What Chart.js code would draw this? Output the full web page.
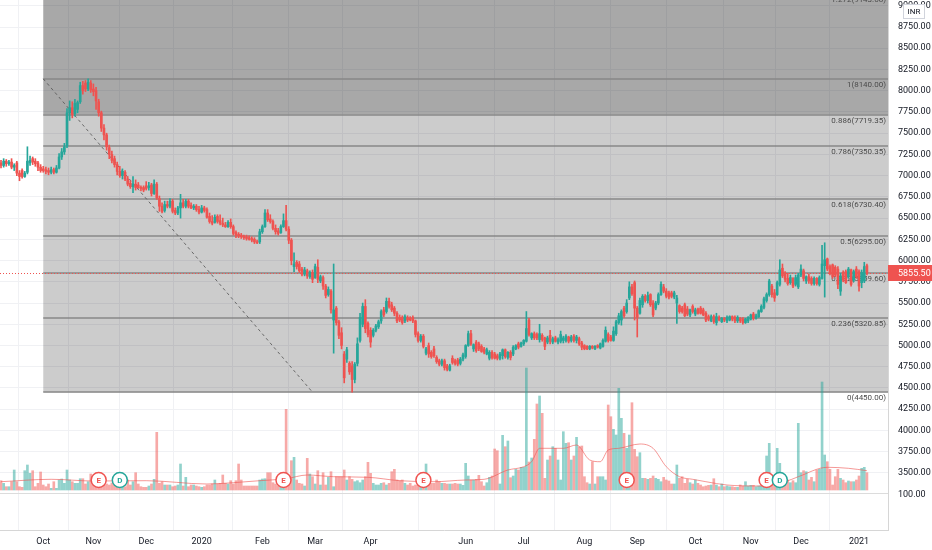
<!DOCTYPE html>
<html>
<head>
<meta charset="utf-8">
<script src="https://cdn.jsdelivr.net/npm/chart.js@4.4.1/dist/chart.umd.min.js"></script>
<style>
html, body { margin: 0; padding: 0; background: #fff; }
#wrap { width: 932px; height: 550px; }
</style>
</head>
<body>
<div id="wrap"><canvas id="chart" width="932" height="550"></canvas></div>
<script>
// daily candles, Sep 2019 - Jan 2021 (index = trading day)
const opens = [
  7150,7120,7170,7140,7160,7100,7150,7030,7060,6990, 7040,7150,7200,7170,7150,7100,7080,7070,7060,7040,
  7070,7040,7090,7220,7280,7350,7740,7800,7730,7780, 7870,8060,8090,8020,8090,8020,8000,7870,7740,7560,
  7480,7330,7250,7200,7130,7050,7000,7040,6960,6910, 6870,6900,6890,6860,6860,6880,6860,6890,6790,6900,
  6730,6640,6590,6660,6640,6700,6590,6560,6620,6680, 6640,6700,6650,6620,6640,6600,6570,6620,6600,6520,
  6460,6450,6520,6470,6440,6420,6400,6450,6400,6330, 6310,6300,6290,6280,6270,6260,6250,6220,6220,6340,
  6400,6560,6490,6460,6380,6350,6330,6400,6470,6370, 6240,5930,5980,5960,5900,5840,5880,5810,5860,5800,
  5920,5760,5800,5700,5600,5640,5300,5440,5280,5150, 4900,4840,4790,4760,4600,4790,5060,5250,5460,5260,
  5180,5120,5180,5220,5290,5420,5400,5520,5480,5440, 5380,5330,5330,5290,5330,5320,5330,5290,5140,5060,
  5110,4910,5000,4920,4960,4860,4820,4780,4820,4760, 4710,4850,4820,4830,4790,4840,4870,5000,5140,4960,
  5040,5020,4990,4960,4900,4850,4920,4900,4880,4850, 4880,4950,4860,4920,4900,4960,5020,4990,5020,5050,
  5300,5090,5140,5130,5070,5120,5090,5040,5120,5040, 5090,5040,5050,5060,5060,5100,5060,5110,5060,5080,
  5030,5000,4990,4960,4990,4960,5000,4970,4990,5050, 5130,5100,5060,5140,5270,5300,5440,5400,5560,5690,
  5740,5440,5380,5480,5580,5530,5600,5500,5440,5500, 5600,5690,5640,5620,5620,5570,5500,5470,5440,5480,
  5430,5360,5460,5370,5430,5440,5420,5380,5340,5290, 5340,5270,5330,5280,5320,5290,5300,5340,5330,5290,
  5320,5310,5270,5290,5310,5370,5320,5340,5400,5450, 5530,5600,5700,5620,5600,5720,5910,5840,5790,5740,
  5790,5720,5690,5830,5880,5760,5810,5790,5730,5790, 5720,5790,5940,6020,5930,5950,5920,5900,5640,5860,
  5870,5810,5890,5770,5900,5870,5740,5760,5940
];
const highs = [
  7180,7200,7190,7180,7200,7140,7170,7060,7080,7050, 7340,7230,7220,7200,7170,7130,7110,7100,7090,7100,
  7090,7120,7260,7320,7380,7790,7880,7870,7900,7880, 8100,8110,8120,8140,8120,8080,8040,7900,7760,7600,
  7500,7360,7290,7230,7160,7110,7080,7060,6990,6940, 6990,6950,6920,6880,6880,6930,6920,6910,6950,6920,
  6760,6680,6700,6700,6730,6720,6620,6640,6780,6720, 6720,6720,6680,6660,6660,6640,6650,6640,6620,6560,
  6530,6540,6540,6540,6500,6450,6470,6490,6420,6350, 6330,6320,6300,6300,6290,6280,6270,6240,6370,6420,
  6600,6600,6540,6480,6420,6380,6420,6550,6650,6400, 6260,6090,6000,5990,5920,5920,5900,5880,5890,5960,
  6010,5830,5820,5720,5690,5660,5960,5460,5300,5210, 4930,4980,4810,4810,4800,5090,5380,5500,5540,5280,
  5210,5200,5250,5300,5420,5450,5560,5560,5510,5460, 5400,5360,5350,5360,5350,5340,5350,5300,5160,5130,
  5130,4980,5030,4940,4990,4880,4840,4840,4840,4780, 4780,4880,4840,4850,4860,4910,5010,5170,5180,5020,
  5060,5040,5010,4980,4970,4940,4940,4920,4900,4920, 4960,4960,4930,4940,5000,5010,5040,5040,5070,5400,
  5320,5150,5160,5150,5250,5140,5100,5110,5180,5100, 5110,5090,5170,5110,5130,5110,5120,5130,5120,5100,
  5050,5010,5000,5000,5000,5000,5010,5030,5080,5220, 5150,5120,5220,5300,5380,5420,5460,5540,5750,5720,
  5760,5460,5560,5600,5600,5630,5610,5530,5520,5620, 5750,5720,5670,5640,5640,5640,5590,5480,5460,5500,
  5460,5430,5480,5440,5440,5460,5440,5400,5360,5360, 5360,5380,5350,5330,5330,5350,5350,5350,5350,5350,
  5330,5330,5320,5340,5370,5390,5370,5420,5480,5570, 5620,5780,5720,5660,5760,6010,5960,5870,5850,5830,
  5800,5830,5850,5950,5900,5820,5840,5810,5810,5800, 5820,6180,6210,6030,5950,5960,5940,5930,5850,5880,
  5890,5920,5900,5890,5930,5890,5890,5980,5960
];
const lows = [
  7090,7100,7110,7120,7080,7060,7000,6940,6970,6980, 7020,7120,7130,7110,7060,7040,7040,7020,7010,7020,
  7020,7030,7080,7190,7250,7330,7650,7680,7700,7740, 7850,7960,7990,8000,7980,7940,7780,7700,7520,7420,
  7300,7200,7150,7100,7010,6980,6960,6940,6880,6850, 6800,6830,6850,6820,6810,6830,6830,6760,6780,6720,
  6580,6560,6570,6620,6620,6560,6540,6540,6500,6620, 6620,6620,6610,6600,6580,6550,6560,6570,6500,6440,
  6420,6440,6440,6420,6400,6390,6390,6380,6300,6270, 6270,6260,6250,6240,6240,6220,6200,6200,6200,6320,
  6390,6460,6440,6360,6310,6300,6320,6390,6350,6200, 5950,5870,5900,5860,5820,5820,5790,5790,5740,5790,
  5740,5740,5660,5560,5580,5380,4910,5240,5080,4960, 4560,4800,4660,4450,4560,4760,5040,5220,5150,5100,
  4980,5100,5160,5200,5260,5340,5380,5440,5400,5350, 5270,5280,5250,5270,5280,5290,5270,5100,5040,5040,
  4970,4890,4860,4850,4860,4790,4760,4760,4710,4700, 4700,4780,4770,4760,4770,4820,4850,4990,5000,4930,
  4920,4940,4920,4900,4890,4830,4840,4840,4830,4830, 4840,4850,4840,4830,4880,4950,4960,4980,5000,5040,
  5110,5070,5070,5070,5040,5050,4950,5020,5020,5020, 5040,5020,5030,5030,5040,5030,5040,5040,5030,5000,
  4950,4950,4950,4950,4960,4950,4970,4960,4980,5040, 5040,5050,5050,5120,5250,5240,5330,5380,5540,5590,
  5300,5100,5370,5450,5510,5500,5460,5340,5420,5480, 5590,5620,5560,5550,5560,5550,5260,5380,5380,5340,
  5350,5340,5380,5350,5370,5370,5350,5280,5290,5280, 5260,5240,5290,5270,5280,5270,5290,5290,5270,5270,
  5270,5250,5260,5270,5300,5300,5310,5330,5390,5430, 5510,5580,5570,5520,5590,5700,5800,5750,5710,5720,
  5680,5700,5670,5810,5760,5730,5730,5710,5710,5710, 5700,5780,5570,5880,5830,5790,5810,5670,5590,5750,
  5730,5790,5700,5750,5790,5640,5680,5740,5830
];
const closes = [
  7120,7170,7140,7160,7100,7120,7030,6990,6990,7030, 7170,7180,7160,7140,7100,7060,7060,7050,7040,7070,
  7040,7090,7220,7280,7340,7740,7800,7720,7850,7860, 8060,8000,8020,8100,8010,7990,7880,7740,7560,7480,
  7340,7250,7180,7130,7050,7000,7050,6960,6900,6870, 6900,6860,6860,6850,6830,6850,6880,6790,6900,6740,
  6640,6580,6660,6640,6700,6580,6560,6620,6680,6640, 6700,6640,6620,6640,6600,6570,6620,6590,6510,6460,
  6440,6510,6460,6440,6420,6400,6450,6400,6320,6300, 6290,6280,6270,6260,6250,6240,6220,6210,6340,6400,
  6560,6480,6460,6380,6340,6320,6400,6470,6370,6240, 6000,5960,5930,5880,5840,5890,5820,5860,5780,5930,
  5780,5810,5700,5590,5660,5420,5420,5270,5120,5000, 4620,4950,4690,4600,4780,5020,5330,5460,5200,5130,
  5040,5180,5230,5280,5400,5360,5520,5460,5420,5380, 5290,5300,5270,5340,5300,5300,5290,5130,5060,5110,
  4990,4960,4900,4870,4880,4810,4780,4820,4740,4720, 4760,4800,4790,4780,4840,4890,5000,5140,5020,5010,
  4940,4960,4930,4920,4950,4920,4860,4850,4850,4900, 4950,4870,4920,4860,4980,5000,4980,5030,5060,5200,
  5130,5140,5090,5090,5140,5070,4990,5090,5050,5080, 5050,5070,5130,5090,5110,5050,5100,5060,5100,5020,
  4980,4960,4960,4990,4970,4990,4980,5020,5060,5180, 5060,5060,5170,5280,5350,5400,5350,5500,5690,5610,
  5440,5330,5530,5580,5530,5590,5480,5360,5500,5600, 5720,5640,5580,5570,5580,5620,5560,5400,5400,5350,
  5370,5420,5400,5420,5380,5380,5360,5300,5310,5340, 5280,5340,5300,5320,5300,5330,5340,5310,5290,5330,
  5290,5270,5310,5330,5360,5320,5350,5410,5460,5550, 5600,5760,5600,5560,5740,5890,5820,5780,5730,5800,
  5700,5800,5830,5900,5790,5810,5760,5730,5790,5730, 5800,5960,6010,5900,5850,5810,5830,5720,5820,5770,
  5740,5900,5720,5870,5810,5700,5860,5930,5855.5
];
// volume, thousand shares
const volumes = [
  93,67,33,33,83,200,83,33,27,193, 250,167,193,33,67,180,50,33,60,17,
  83,17,100,110,67,200,100,83,67,67, 113,113,60,83,160,130,100,70,60,50,
  60,50,70,83,60,50,60,33,100,50, 83,173,60,33,27,27,40,60,107,577,
  67,83,50,50,50,33,40,50,260,40, 127,33,50,50,40,33,27,33,50,50,
  60,100,60,67,150,67,60,93,60,93, 260,100,40,40,40,40,40,40,100,110,
  113,173,173,73,60,40,100,100,807,100, 293,327,100,67,60,40,317,160,133,60,
  193,50,173,50,127,183,33,133,133,133, 200,100,133,107,83,93,73,100,133,277,
  167,67,50,50,67,73,50,67,183,207, 100,93,100,67,50,67,40,50,67,67,
  50,260,67,67,67,100,83,67,67,60, 60,60,67,60,60,47,267,140,100,100,
  107,147,83,40,73,127,140,410,393,60, 547,433,490,123,140,207,200,227,227,1220,
  280,320,507,860,940,767,117,300,340,433, 417,300,100,583,467,473,300,340,527,433,
  440,133,73,60,283,60,133,133,133,100, 850,733,607,550,1017,717,567,417,550,873,
  407,333,373,117,117,107,117,140,117,107, 83,127,100,90,60,60,250,117,133,67,
  107,73,60,100,67,50,33,40,47,50, 113,50,33,60,33,40,33,33,27,27,
  50,40,83,40,47,47,33,40,40,67, 340,467,117,83,417,267,83,100,100,73,
  93,73,667,173,193,183,100,127,83,200, 207,1080,350,283,207,50,133,207,117,100,
  73,90,83,83,100,140,217,227,173
];
// volume moving average
const maIdx = [0,19,35,55,78,88,98,108,116,126,139,151,164,176,183,192,198,201,204,213,218,223,227,230,234,242,247,252,257,262,267,275,287,297,302,313,321,328];
const maVal = [83,107,90,93,60,73,93,113,150,133,127,93,83,100,107,200,233,283,417,417,450,300,283,400,417,460,417,233,133,107,83,50,40,83,133,227,217,193];

const monthLabels = ['Oct','Nov','Dec','2020','Feb','Mar','Apr','Jun','Jul','Aug','Sep','Oct','Nov','Dec','2021'];
const monthIdx = [16,35,55,76,99,119,140,176,198,221,241,263,284,303,325];
const priceTicks = [3500,3750,4000,4250,4500,4750,5000,5250,5500,5750,6000,6250,6500,6750,7000,7250,7500,7750,8000,8250,8500,8750,9000];

// fibonacci retracement drawn from the Oct high to the Mar low
const fibRatios = [0, 0.236, 0.382, 0.5, 0.618, 0.786, 0.886, 1, 1.272];
const fibValues = [4450.00, 5320.85, 5859.60, 6295.00, 6730.40, 7350.35, 7719.35, 8140.00, 9143.68];
const fibStartIdx = 16;
const fibEndIdx = 118;

const eventIdx = [37, 45, 107, 160, 237, 290, 295];
const eventType = ['E', 'D', 'E', 'E', 'E', 'E', 'D'];

const UP = '#26a69a';
const DOWN = '#ef5350';
const PANE_SPLIT = 493;
const FONT = 'Roboto';

const idx = closes.map((c, i) => i);
const candleColors = idx.map(i => closes[i] >= opens[i] ? UP : DOWN);
const volColors = idx.map(i => closes[i] >= opens[i] ? 'rgba(38,166,154,0.5)' : 'rgba(239,83,80,0.5)');

const overlay = {
    id: 'overlay',
    beforeDatasetsDraw(chart) {
        const { ctx, chartArea: a, scales: { x, y } } = chart;
        const x0 = x.getPixelForValue(fibStartIdx);
        const yOf = v => y.getPixelForValue(v);
        ctx.save();
        ctx.beginPath();
        ctx.rect(a.left, a.top, a.width, a.height);
        ctx.clip();

        // pane separator
        ctx.strokeStyle = '#dcdcdc';
        ctx.lineWidth = 1;
        ctx.beginPath();
        ctx.moveTo(a.left, PANE_SPLIT + 0.5);
        ctx.lineTo(a.right, PANE_SPLIT + 0.5);
        ctx.stroke();

        // fib backgrounds
        const k886 = fibRatios.indexOf(0.886);
        const yMid = yOf(fibValues[k886]);
        const yLow = yOf(fibValues[0]);
        const yTop = yOf(fibValues[fibValues.length - 1]);
        ctx.fillStyle = 'rgba(0,0,0,0.2)';
        ctx.fillRect(x0, yMid, a.right - x0, yLow - yMid);
        ctx.fillStyle = 'rgba(0,0,0,0.34)';
        ctx.fillRect(x0, yTop, a.right - x0, yMid - yTop);

        // fib levels
        ctx.strokeStyle = '#878787';
        ctx.lineWidth = 1.5;
        fibValues.forEach(v => {
            const py = Math.round(yOf(v));
            ctx.beginPath();
            ctx.moveTo(x0, py);
            ctx.lineTo(a.right, py);
            ctx.stroke();
        });
        ctx.font = '8px ' + FONT;
        ctx.fillStyle = '#4a4a4a';
        ctx.textAlign = 'right';
        ctx.textBaseline = 'top';
        fibValues.forEach((v, k) => {
            ctx.fillText(`${fibRatios[k]}(${v.toFixed(2)})`, a.right - 2, yOf(v) + 2);
        });

        // last price line
        const py = Math.round(yOf(closes[closes.length - 1])) + 0.5;
        ctx.strokeStyle = DOWN;
        ctx.lineWidth = 1;
        ctx.setLineDash([1, 2]);
        ctx.beginPath();
        ctx.moveTo(a.left, py);
        ctx.lineTo(a.right, py);
        ctx.stroke();
        ctx.restore();
    },
    afterDatasetsDraw(chart) {
        const { ctx } = chart;
        const meta = chart.getDatasetMeta(chart.data.datasets.findIndex(d => d.label === 'events'));
        ctx.save();
        ctx.font = 'bold 8px ' + FONT;
        ctx.textAlign = 'center';
        ctx.textBaseline = 'middle';
        meta.data.forEach((pt, k) => {
            ctx.fillStyle = eventType[k] === 'E' ? DOWN : UP;
            ctx.fillText(eventType[k], pt.x, pt.y + 0.5);
        });
        ctx.restore();
    },
    afterDraw(chart) {
        const { ctx, chartArea: a, scales: { y } } = chart;
        ctx.save();
        // price tag
        const last = closes[closes.length - 1];
        const py = Math.round(y.getPixelForValue(last));
        ctx.fillStyle = DOWN;
        ctx.fillRect(a.right, py - 8, chart.width - a.right, 16);
        ctx.fillStyle = '#fff';
        ctx.font = '9px ' + FONT;
        ctx.textAlign = 'left';
        ctx.textBaseline = 'middle';
        ctx.fillText(last.toFixed(2), a.right + 10, py + 0.5);

        // lower pane scale label
        ctx.fillStyle = '#131722';
        ctx.fillText('100.00', a.right + 10, PANE_SPLIT + 2);

        // currency badge
        ctx.fillStyle = '#fff';
        ctx.strokeStyle = '#d1d4dc';
        ctx.lineWidth = 1;
        ctx.fillRect(903.5, 4.5, 21, 14);
        ctx.strokeRect(903.5, 4.5, 21, 14);
        ctx.fillStyle = '#131722';
        ctx.font = '8px ' + FONT;
        ctx.textAlign = 'center';
        ctx.fillText('INR', 914, 12);
        ctx.restore();
    }
};

const ctx = document.getElementById('chart').getContext('2d');
const chart = new Chart(ctx, {
    type: 'bar',
    data: {
        datasets: [
            {
                label: 'events',
                type: 'scatter',
                yAxisID: 'yv',
                data: eventIdx.map(i => ({ x: i, y: 100 })),
                pointRadius: 7.5,
                pointBackgroundColor: '#fff',
                pointBorderColor: eventType.map(t => t === 'E' ? DOWN : UP),
                pointBorderWidth: 1.5,
                order: 0
            },
            {
                label: 'bodies',
                data: idx.map(i => ({ x: i, y: [opens[i], closes[i]] })),
                backgroundColor: candleColors,
                grouped: false,
                barThickness: 2,
                maxBarThickness: 2,
                minBarLength: 1,
                borderWidth: 0,
                order: 1
            },
            {
                label: 'wicks',
                data: idx.map(i => ({ x: i, y: [lows[i], highs[i]] })),
                backgroundColor: candleColors,
                grouped: false,
                barThickness: 1,
                maxBarThickness: 1,
                borderWidth: 0,
                order: 2
            },
            {
                label: 'fibLine',
                type: 'line',
                data: [{ x: fibStartIdx, y: fibValues[7] }, { x: fibEndIdx, y: fibValues[0] }],
                borderColor: 'rgba(80,80,80,0.8)',
                borderWidth: 1,
                borderDash: [3, 3],
                pointRadius: 0,
                order: 3
            },
            {
                label: 'volMA',
                type: 'line',
                yAxisID: 'yv',
                data: maIdx.map((i, k) => ({ x: i, y: maVal[k] })),
                borderColor: 'rgba(239,83,80,0.6)',
                borderWidth: 1,
                pointRadius: 0,
                cubicInterpolationMode: 'monotone',
                order: 4
            },
            {
                label: 'volume',
                yAxisID: 'yv',
                data: idx.map(i => ({ x: i, y: volumes[i] })),
                backgroundColor: volColors,
                grouped: false,
                barThickness: 2,
                maxBarThickness: 2,
                borderWidth: 0,
                order: 5
            }
        ]
    },
    options: {
        responsive: false,
        animation: false,
        devicePixelRatio: 1,
        layout: { padding: 0, autoPadding: false },
        plugins: { legend: { display: false }, tooltip: { enabled: false } },
        scales: {
            x: {
                type: 'linear',
                min: -0.38,
                max: 335.98,
                offset: false,
                afterBuildTicks: s => { s.ticks = monthIdx.map(v => ({ value: v })); },
                afterFit: s => { s.height = 20; s.paddingLeft = 0; s.paddingRight = 0; },
                ticks: {
                    autoSkip: false,
                    maxRotation: 0,
                    padding: 6,
                    color: '#131722',
                    font: { family: FONT, size: 9 },
                    callback: v => { const k = monthIdx.indexOf(v); return k >= 0 ? monthLabels[k] : ''; }
                },
                grid: { color: '#f0f1f4', drawTicks: false },
                border: { color: '#d6d6d6' }
            },
            y: {
                position: 'right',
                min: 2828,
                max: 9068,
                afterBuildTicks: s => { s.ticks = priceTicks.map(v => ({ value: v })); },
                afterFit: s => { s.width = 44; s.paddingTop = 0; s.paddingBottom = 0; },
                ticks: {
                    padding: 10,
                    color: '#131722',
                    font: { family: FONT, size: 9 },
                    callback: v => v.toFixed(2)
                },
                grid: { color: '#f0f1f4', drawTicks: false },
                border: { color: '#d6d6d6' }
            },
            yv: {
                display: false,
                min: -400,
                max: 4900
            }
        }
    },
    plugins: [overlay]
});
</script>
</body>
</html>
